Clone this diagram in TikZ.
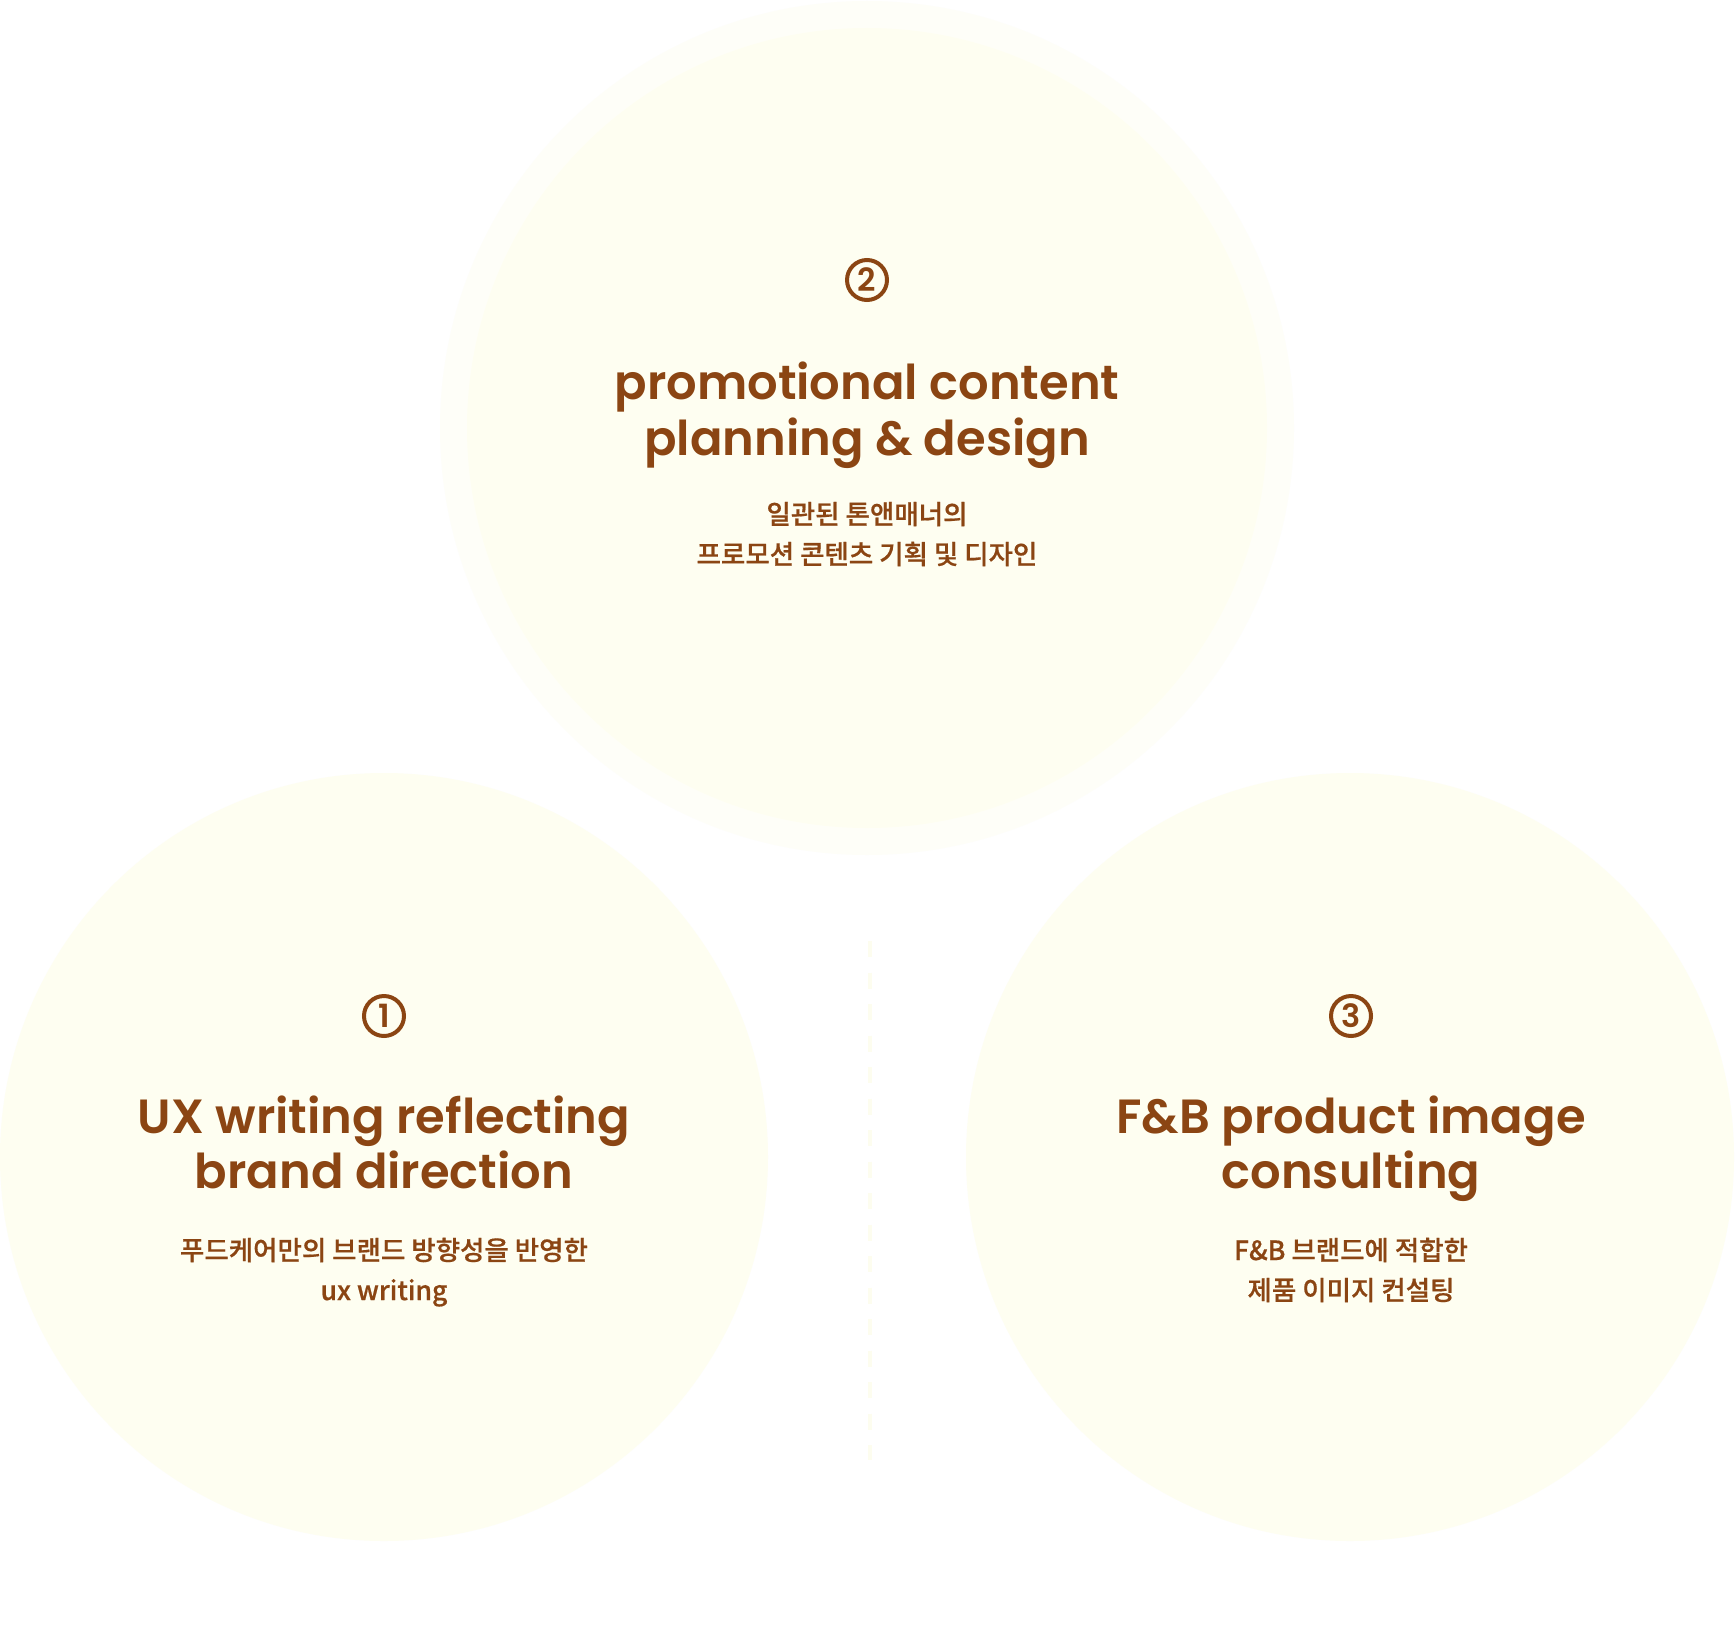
\documentclass[tikz,border=0pt]{standalone}
\usepackage{fontspec}
\newfontfamily\pop{Poppins SemiBold}
\newfontfamily\kr{Noto Sans CJK KR Medium}[FakeBold=0.6]
\definecolor{brn}{HTML}{8B4513}
\definecolor{cream}{HTML}{FEFEF1}
\definecolor{creamlt}{HTML}{FEFEF8}
\definecolor{dashc}{HTML}{FDFDEF}
\begin{document}
\begin{tikzpicture}[x=1pt,y=-1pt,
  disc/.style={fill=cream,draw=none},
  ring/.style={fill=creamlt,draw=none},
  numc/.style={circle,draw=brn,line width=4pt,minimum size=40pt,inner sep=0pt,text=brn,font=\pop\fontsize{32}{32}\selectfont},
  ttl/.style={anchor=base,inner sep=0pt,text=brn,font=\pop\fontsize{48}{48}\selectfont},
  sub/.style={anchor=base,inner sep=0pt,text=brn,font=\kr\fontsize{26.5}{26.5}\selectfont},
  dashln/.style={draw=dashc,line width=4pt,dash pattern=on 16pt off 15.5pt}]
\fill[white] (0,0) rectangle (1736,1627);
\useasboundingbox (0,0) rectangle (1736,1627);
% circles
\fill[ring] (867,428) circle (427);
\fill[disc] (867,428) circle (400);
\fill[disc] (384,1157) circle (384);
\fill[disc] (1350,1157) circle (384);
% dashed line
\coordinate (dtop) at (870,941);
\coordinate (dbot) at (870,1460);
\draw[dashln] (dtop) -- (dbot);
% top block
\node[numc] (n2) at (867,280) {2};
\node[ttl] (t2a) at (867,399) {promotional content};
\node[ttl] (t2b) at (867,455) {planning \& design};
\node[sub] (s2a) at (867,524) {일관된 톤앤매너의};
\node[sub] (s2b) at (867,564) {프로모션 콘텐츠 기획 및 디자인};
% left block
\node[numc] (n1) at (384,1016) {1};
\node[ttl] (t1a) at (384,1133) {UX writing reflecting};
\node[ttl] (t1b) at (384,1188) {brand direction};
\node[sub] (s1a) at (384,1260) {푸드케어만의 브랜드 방향성을 반영한};
\node[sub] (s1b) at (384,1300) {ux writing};
% right block
\node[numc] (n3) at (1351,1016) {3};
\node[ttl] (t3a) at (1351,1133) {F\&B product image};
\node[ttl] (t3b) at (1351,1188) {consulting};
\node[sub] (s3a) at (1351,1260) {F\&B 브랜드에 적합한};
\node[sub] (s3b) at (1351,1300) {제품 이미지 컨설팅};
\end{tikzpicture}
\end{document}
